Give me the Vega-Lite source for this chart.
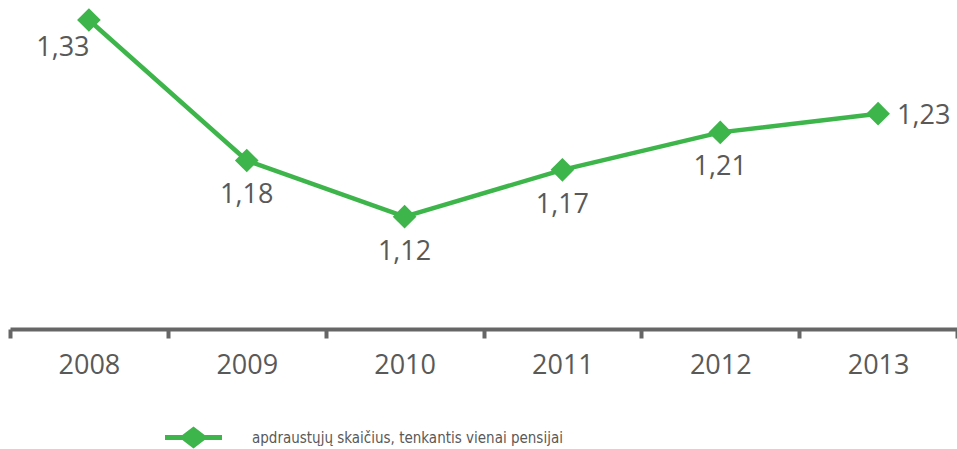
{
  "$schema": "https://vega.github.io/schema/vega-lite/v6.json",
  "width": 947,
  "height": 329,
  "autosize": {"type": "none"},
  "padding": {"left": 10, "top": 0, "right": 0, "bottom": 120},
  "background": "white",
  "config": {
    "view": {"stroke": null},
    "locale": {"number": {"decimal": ",", "thousands": " ", "grouping": [3], "currency": ["", " €"]}}
  },
  "data": {
    "values": [
      {"year": "2008", "value": 1.33, "series": "apdraustųjų skaičius, tenkantis vienai pensijai"},
      {"year": "2009", "value": 1.18, "series": "apdraustųjų skaičius, tenkantis vienai pensijai"},
      {"year": "2010", "value": 1.12, "series": "apdraustųjų skaičius, tenkantis vienai pensijai"},
      {"year": "2011", "value": 1.17, "series": "apdraustųjų skaičius, tenkantis vienai pensijai"},
      {"year": "2012", "value": 1.21, "series": "apdraustųjų skaičius, tenkantis vienai pensijai"},
      {"year": "2013", "value": 1.23, "series": "apdraustųjų skaičius, tenkantis vienai pensijai"}
    ]
  },
  "encoding": {
    "x": {
      "field": "year", "type": "ordinal",
      "scale": {"paddingInner": 0, "paddingOuter": 0},
      "axis": {
        "title": null, "labelAngle": 0, "labelFont": "Open Sans", "labelFontSize": 27,
        "labelColor": "#595959", "domainColor": "#666666", "domainWidth": 4,
        "tickColor": "#666666", "tickWidth": 4, "tickSize": 9, "tickBand": "extent",
        "labelPadding": 14, "grid": false
      }
    },
    "y": {
      "field": "value", "type": "quantitative",
      "scale": {"domain": [1, 1.3514], "nice": false, "zero": false},
      "axis": null
    }
  },
  "layer": [
    {
      "mark": {"type": "line", "color": "#3db54a", "strokeWidth": 4.5}
    },
    {
      "mark": {"type": "point", "shape": "diamond", "filled": true, "size": 560, "opacity": 1},
      "encoding": {
        "color": {
          "field": "series", "type": "nominal",
          "scale": {"range": ["#3db54a"]},
          "legend": {
            "title": null, "orient": "none", "legendX": 155, "legendY": 409,
            "symbolType": "M-1,-0.085L-0.39,-0.085L0,-0.39L0.39,-0.085L1,-0.085L1,0.085L0.39,0.085L0,0.39L-0.39,0.085L-1,0.085Z",
            "symbolSize": 3249, "symbolStrokeWidth": 0, "symbolOpacity": 1, "symbolFillColor": "#3db54a",
            "labelOffset": 30, "labelFont": "Liberation Sans Narrow, DejaVu Sans Condensed",
            "labelFontSize": 15, "labelColor": "#595959", "padding": 0, "labelLimit": 600
          }
        }
      }
    },
    {
      "transform": [{"filter": "datum.year == '2008'"}],
      "mark": {"type": "text", "font": "Open Sans", "fontSize": 27, "color": "#595959", "align": "center", "baseline": "middle", "dx": -26, "dy": 28},
      "encoding": {"text": {"field": "value", "type": "quantitative", "format": ".2f"}}
    },
    {
      "transform": [{"filter": "datum.year != '2008' && datum.year != '2013'"}],
      "mark": {"type": "text", "font": "Open Sans", "fontSize": 27, "color": "#595959", "align": "center", "baseline": "middle", "dy": 35},
      "encoding": {"text": {"field": "value", "type": "quantitative", "format": ".2f"}}
    },
    {
      "transform": [{"filter": "datum.year == '2013'"}],
      "mark": {"type": "text", "font": "Open Sans", "fontSize": 27, "color": "#595959", "align": "left", "baseline": "middle", "dx": 19, "dy": 2},
      "encoding": {"text": {"field": "value", "type": "quantitative", "format": ".2f"}}
    }
  ]
}
